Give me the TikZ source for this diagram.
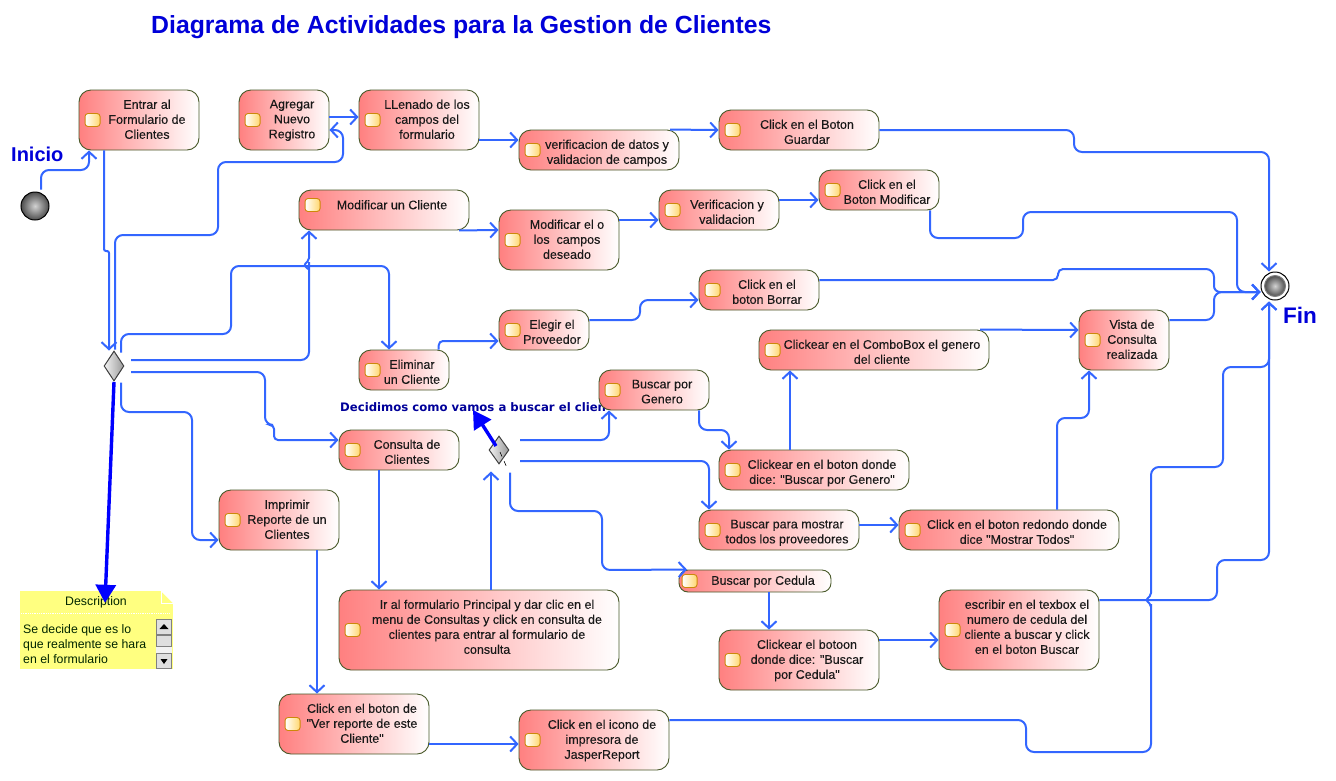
\documentclass[tikz,border=0pt]{standalone}
\usepackage{fontspec}
\setmainfont{Liberation Sans}
\newfontfamily\actfont[FakeBold=0.15]{Liberation Sans}
\newfontfamily\decfont{DejaVu Sans}
\usetikzlibrary{positioning}
\usetikzlibrary{arrows.meta}
\usetikzlibrary{shapes.geometric}
\definecolor{flowblue}{RGB}{51,102,255}
\definecolor{actred}{RGB}{255,128,128}
\definecolor{actline}{RGB}{72,88,40}
\definecolor{icoline}{RGB}{205,135,10}
\definecolor{icofill}{RGB}{255,215,110}
\definecolor{notayellow}{RGB}{255,255,128}
\tikzset{
  act/.style={draw=actline,line width=0.9pt,left color=actred,right color=white,inner sep=0pt},
  txt/.style={font=\actfont\fontsize{12.5}{15}\selectfont,align=center,anchor=north,inner sep=0pt,text=black!90,execute at begin node=\strut},
  ico/.style={draw=icoline,line width=0.9pt,left color=white,right color=icofill,rounded corners=3pt,minimum width=15pt,minimum height=13pt,inner sep=0pt},
  flow/.style={draw=flowblue,line width=2pt,rounded corners=8pt,-{Straight Barb[length=7pt,width=15pt]}},
  nota/.style={draw=blue,line width=3.4pt,-{Triangle[length=18pt,width=20pt]}},
  titulo/.style={font=\bfseries\fontsize{24.8}{28}\selectfont,text=blue!85!black,inner sep=0pt},
  bola/.style={circle,draw=black,line width=1pt,inner sep=0pt,minimum size=28pt,shading=radial,inner color=gray!35,outer color=black!70},
  rombo/.style={diamond,draw=black!75,line width=1pt,inner sep=0pt,left color=gray!10,right color=gray!80},
}
\newcommand{\actividad}[7][]{
  \pgfmathsetmacro{\radio}{min(12,(#6-#4)/2-2)}
  \node[act,rounded corners=\radio pt,minimum width={(#5-#3)*1pt},minimum height={(#6-#4)*1pt}] (#2) at ({(#3+#5)/2},{(#4+#6)/2}) {};
  \node[txt,#1] (#2-txt) at ([xshift=8pt,yshift=-10pt]#2.north) {#7};
  \node[ico] (#2-ico) at ([xshift={(\radio+2)*1pt}]#2.west) {};
}
\begin{document}
\begin{tikzpicture}[x=1pt,y=-1pt]
 \useasboundingbox (0,0) rectangle (1336,780);
 \node[titulo,anchor=west] (titulo) at (151,27) {Diagrama de Actividades para la Gestion de Clientes};
 \node[titulo,anchor=west,font=\bfseries\fontsize{20}{24}\selectfont] (inicio) at (11,154) {Inicio};
 \node[titulo,anchor=west,font=\bfseries\fontsize{22.5}{26}\selectfont] (fin) at (1283,315) {Fin};
 \node[anchor=west,inner sep=0pt,text=blue!60!black,font=\decfont\bfseries\fontsize{11.7}{14}\selectfont] (decidimos) at (340,407) {Decidimos como vamos a buscar el clien};

 \node[bola] (ini) at (35,206) {};
 \node[circle,draw=black,line width=1pt,inner sep=0pt,minimum size=28pt] (final) at (1275,286) {};
 \node[bola,minimum size=21pt,draw=gray] (finalbola) at (final.center) {};
 \node[rombo,minimum width=20pt,minimum height=30pt] (dec) at (114,366) {};
 \node[rombo,minimum width=20pt,minimum height=28pt] (decbus) at (499,450) {};

 \actividad{entrar}{79}{90}{199}{150}{Entrar al\\Formulario de\\Clientes}
 \actividad{agregar}{239}{90}{329}{150}{Agregar\\Nuevo\\Registro}
 \actividad{llenado}{359}{90}{479}{150}{LLenado de los\\campos del\\formulario}
 \actividad{verif}{519}{130}{679}{170}{verificacion de datos y\\validacion de campos}
 \actividad{guardar}{719}{110}{879}{150}{Click en el Boton\\Guardar}
 \node[act,rounded corners=12pt,minimum width=170pt,minimum height=40pt] (modcli) at (384,210) {};
 \node[txt] (modcli-txt) at ([xshift=8pt,yshift=-9pt]modcli.north) {Modificar un Cliente};
 \node[ico] (modcli-ico) at ([xshift=14pt,yshift=5pt]modcli.west) {};
 \actividad{modcampos}{499}{210}{619}{270}{Modificar el o\\los\ \ campos\\deseado}
 \actividad{verifval}{659}{190}{779}{230}{Verificacion y\\validacion}
 \actividad{botonmod}{819}{170}{939}{210}{Click en el\\Boton Modificar}
 \actividad{borrar}{699}{270}{819}{310}{Click en el\\boton Borrar}
 \actividad{elegir}{499}{310}{589}{350}{Elegir el\\Proveedor}
 \actividad{eliminar}{359}{350}{449}{390}{Eliminar\\un Cliente}
 \actividad{combo}{759}{330}{989}{370}{Clickear en el ComboBox el genero\\del cliente}
 \actividad{vista}{1079}{310}{1169}{370}{Vista de\\Consulta\\realizada}
 \actividad{buscgen}{599}{370}{709}{410}{Buscar por\\Genero}
 \actividad{clickgen}{719}{450}{909}{490}{Clickear en el boton donde\\dice: "Buscar por Genero"}
 \actividad{consulta}{339}{430}{459}{470}{Consulta de\\Clientes}
 \actividad{imprimir}{219}{490}{339}{550}{Imprimir\\Reporte de un\\Clientes}
 \actividad{mostrar}{699}{510}{859}{550}{Buscar para mostrar\\todos los proveedores}
 \actividad{redondo}{899}{510}{1119}{550}{Click en el boton redondo donde\\dice "Mostrar Todos"}
 \actividad[yshift=5.5pt]{cedula}{679}{570}{831}{592}{Buscar por Cedula}
 \actividad{botoon}{719}{630}{879}{690}{Clickear el botoon\\donde dice: "Buscar\\por Cedula"}
 \actividad{escribir}{939}{590}{1099}{670}{escribir en el texbox el\\numero de cedula del\\cliente a buscar y click\\en el boton Buscar}
 \actividad{irform}{339}{590}{619}{670}{Ir al formulario Principal y dar clic en el\\menu de Consultas y click en consulta de\\clientes para entrar al formulario de\\consulta}
 \actividad{verrep}{279}{694}{429}{754}{Click en el boton de\\"Ver reporte de este\\Cliente"}
 \actividad{jasper}{519}{710}{669}{770}{Click en el icono de\\impresora de\\JasperReport}

 \node[fill=notayellow,inner sep=0pt,minimum width=153pt,minimum height=78pt] (descripcion) at (96.5,630) {};
 \fill[white] (161,591)--(173,591)--(173,603)--cycle;
 \draw[white,line width=0.8pt] (161.5,591)--(161.5,603)--(173,603);
 \draw[white,line width=0.8pt,densely dotted] (21,613)--(170,613);
 \node[inner sep=0pt,font=\fontsize{12.3}{15}\selectfont,text=black!85!green] (desctitulo) at (96,602) {Description};
 \node[inner sep=0pt,anchor=west,align=left,font=\fontsize{12.3}{15.3}\selectfont,text=black!85!green] (desctexto) at (23,644) {Se decide que es lo\\que realmente se hara\\en el formulario};
 \fill[gray!10] (156,619) rectangle (172,669);
 \draw[gray,fill=gray!25] (156.5,619.5) rectangle (171.5,634);
 \draw[gray,fill=gray!25] (156.5,635) rectangle (171.5,646);
 \draw[gray,fill=gray!25] (156.5,653.5) rectangle (171.5,668.5);
 \fill[black] (159.5,629)--(168.5,629)--(164,624)--cycle;
 \fill[black] (160.5,659)--(167.5,659)--(164,664)--cycle;

 \draw[flow] ([xshift=6pt,yshift=2pt]ini.north) -- (41,170) -- (89,170) -- ([xshift=-50pt]entrar.south);
 \draw[flow,rounded corners=2pt] ([xshift=-35pt]entrar.south) -- (104,251) -- (109,251) -- ([xshift=-5pt]dec.north);
 \draw[flow] ([xshift=1pt,yshift=1pt]dec.north) -- (115,235) -- (218,235) -- (218,162) -- (343,162) -- (343,130) -- ([yshift=-10pt]agregar.east);
 \draw[flow] ([yshift=3pt]agregar.east) -- ([yshift=3pt]llenado.west);
 \draw[flow] ([yshift=-20pt]llenado.east) -- (verif.west |- 0,140);
 \draw[flow] ([xshift=71pt]verif.north) -- (guardar.west);
 \draw[flow] (guardar.east) -- (1074,130) -- (1074,152) -- (1269,152) -- ([xshift=-6pt]final.north);
 \draw[flow] ([xshift=75pt]modcli.south) -- ([yshift=10pt]modcampos.west);
 \draw[flow] ([yshift=20pt]modcampos.east) -- (verifval.west |- 0,220);
 \draw[flow] ([yshift=10pt]verifval.east) -- (botonmod.west |- 0,200);
 \draw[flow] ([xshift=51pt]botonmod.south) -- (930,238) -- (1023,238) -- (1023,212) -- (1237,212) -- (1237,292) -- ([yshift=-6pt]final.west);
 \draw[flow,rounded corners=5pt] ([yshift=10pt]borrar.east) -- (1058,280) -- (1058,269) [rounded corners=8pt] -- (1214,269) [rounded corners=6pt] -- (1214,292) -- ([yshift=-6pt]final.west);
 \draw[flow] ([yshift=20pt]vista.east) -- (1214,320) -- (1214,292) -- ([yshift=-6pt]final.west);
 \draw[flow] ([xshift=17pt,yshift=6pt]dec.center) -- (309,360) -- (309,270) [rounded corners=2pt] -- (309,270) -- (304,265) -- (309,260) [rounded corners=8pt] -- ([xshift=-75pt]modcli.south);
 \draw[flow] ([xshift=7pt,yshift=-2pt]dec.north) -- (121,334) -- (231,334) -- (231,266) -- (389,266) -- ([xshift=-15pt]eliminar.north);
 \draw[flow] ([xshift=17pt,yshift=-6pt]dec.center) -- (265,372) -- (265,425) [rounded corners=4pt] -- (274,425) -- (274,440) [rounded corners=8pt] -- ([yshift=10pt]consulta.west);
 \draw[flow] ([xshift=7pt,yshift=-1pt]dec.south) -- (121,412) -- (192,412) -- (192,540) -- ([yshift=-20pt]imprimir.west);
 \draw[flow,rounded corners=4pt] ([xshift=34.5pt]eliminar.north) -- (439,341) -- ([yshift=-11pt]elegir.west);
 \draw[flow] ([yshift=10pt]elegir.east) -- (640,320) -- (640,300) -- ([yshift=-10pt]borrar.west);
 \draw[flow] ([xshift=106pt]combo.north) -- ([yshift=10pt]vista.west);
 \draw[flow] ([xshift=21pt,yshift=10pt]decbus.center) -- (609,440) -- ([xshift=-45pt]buscgen.south);
 \draw[flow] ([xshift=45pt]buscgen.south) -- (699,430) -- (729,430) -- ([xshift=-85pt]clickgen.north);
 \draw[flow] ([xshift=21pt,yshift=-11pt]decbus.center) -- (709,461) -- ([xshift=-70pt]mostrar.north);
 \draw[flow] ([xshift=11pt,yshift=-8pt]decbus.south) -- (510,511) -- (602,511) -- (602,570) -- ([xshift=-68pt]cedula.north);
 \draw[flow] ([xshift=-24pt]clickgen.north) -- ([xshift=-84pt]combo.south);
 \draw[flow] ([yshift=5pt]mostrar.east) -- ([yshift=5pt]redondo.west);
 \draw[flow] ([xshift=48pt]redondo.north) -- (1057,418) -- (1089,418) -- ([xshift=-35pt]vista.south);
 \draw[flow] ([xshift=14pt]cedula.south) -- ([xshift=-30pt]botoon.north);
 \draw[flow] ([yshift=20pt]botoon.east) -- ([yshift=-10pt]escribir.west);
 \draw[flow] ([yshift=30pt]escribir.east) -- (1217,600) -- (1217,560) -- (1269,560) -- ([xshift=-6pt,yshift=-1pt]final.south);
 \draw[flow] ([xshift=-20pt]consulta.south) -- ([xshift=-100pt]irform.north);
 \draw[flow] ([xshift=12pt]irform.north) -- ([xshift=-8pt,yshift=-7pt]decbus.south);
 \draw[flow] ([xshift=38pt]imprimir.south) -- ([xshift=-37pt]verrep.north);
 \draw[flow] ([yshift=-20pt]verrep.east) -- ([yshift=-4pt]jasper.west);
 \draw[flow] ([yshift=20pt]jasper.east) -- (1026,720) -- (1026,752) -- (1151,752) -- (1151,612) [rounded corners=2pt] -- (1151,605) -- (1146,600) -- (1151,595) [rounded corners=8pt] -- (1151,467) -- (1223,467) -- (1223,367) -- (1269,367) -- ([xshift=-6pt,yshift=-1pt]final.south);

 \coordinate (decbusfin) at (508,470);
 \draw[black,line width=0.6pt,dash pattern=on 5pt off 5pt] ([xshift=1pt,yshift=-2pt]decbus.center) -- (decbusfin);
 \draw[nota] ([yshift=-16pt]dec.center) -- ([xshift=8.5pt,yshift=-12pt]descripcion.north);
 \draw[nota] ([xshift=-3pt,yshift=4pt]decbus.center) -- ([xshift=133pt,yshift=-3pt]decidimos.west);
\end{tikzpicture}
\end{document}
